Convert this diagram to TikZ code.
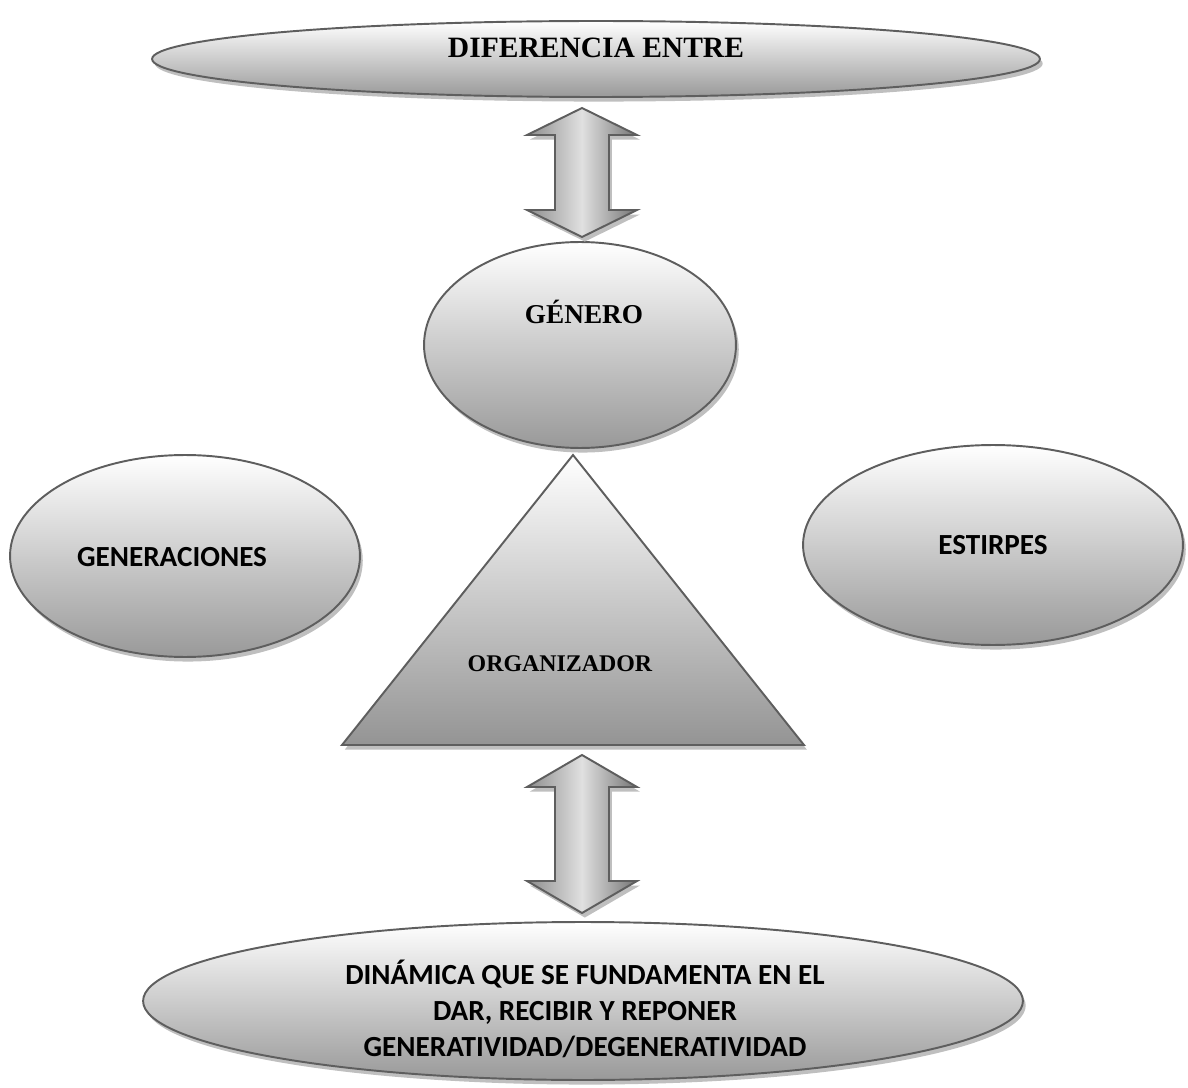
\documentclass[tikz,border=0pt]{standalone}
\usepackage{fontspec}
\setmainfont{Liberation Serif}
\newfontfamily\calfont{Carlito}
\usetikzlibrary{shapes.geometric,calc,shadows}

% vertical double-headed block arrow between two named points
\newcommand\dblarrow[3]{%
  \path[blockarrow]
    (#1) -- ($(#1)+(55,#3)$) -- ($(#1)+(27,#3)$) -- ($(#2)+(27,-#3)$)
    -- ($(#2)+(55,-#3)$) -- (#2) -- ($(#2)+(-55,-#3)$) -- ($(#2)+(-27,-#3)$)
    -- ($(#1)+(-27,#3)$) -- ($(#1)+(-55,#3)$) -- cycle;}

\begin{document}
\begin{tikzpicture}[x=0.02cm,y=-0.02cm,
  shade/.style={drop shadow={shadow xshift=1.6pt,shadow yshift=-2.6pt,
      fill=black!25,opacity=1}},
  oval/.style={ellipse,draw=black!63,line width=1.1pt,inner sep=0pt,
      top color=white,bottom color=black!40,shade},
  blockarrow/.style={draw=black!63,line width=1.1pt,
      left color=black!45,right color=black!55,middle color=black!12,shade},
  serifbold/.style={font=\fontsize{#1}{#1}\selectfont\bfseries,inner sep=0pt},
  sansbold/.style={font=\calfont\fontsize{#1}{#1}\selectfont\bfseries,inner sep=0pt}]

\useasboundingbox (0,0) rectangle (1188,1088);

% ellipses
\node[oval,minimum width=17.76cm,minimum height=1.52cm] (dif) at (596,59) {};
\node[oval,minimum width=6.24cm,minimum height=4.12cm] (gen) at (580,345) {};
\node[oval,minimum width=7.0cm,minimum height=4.04cm] (gens) at (185,556) {};
\node[oval,minimum width=7.6cm,minimum height=4.0cm] (est) at (993,545) {};
\node[oval,minimum width=17.6cm,minimum height=3.16cm] (din) at (583,1001) {};

% central triangle
\path[draw=black!63,line width=1.1pt,top color=white,bottom color=black!42,shade]
  (573,455) -- (804,745) -- (342,745) -- cycle;

% labels
\node[serifbold=16.8pt] (difT) at (596,48) {DIFERENCIA ENTRE};
\node[serifbold=15.5pt] (genT) at (584,312) {GÉNERO};
\node[serifbold=13.6pt] (org) at (560,664) {ORGANIZADOR};
\node[sansbold=16.6pt] (gensT) at (172,557) {GENERACIONES};
\node[sansbold=16.6pt] (estT) at (993,545) {ESTIRPES};
\node[align=center,inner sep=0pt,
  font=\calfont\fontsize{16.6pt}{20.6pt}\selectfont\bfseries] (dinT) at (585,1009)
  {DINÁMICA QUE SE FUNDAMENTA EN EL\\DAR, RECIBIR Y REPONER\\GENERATIVIDAD/DEGENERATIVIDAD};

% connectors
\coordinate (a1t) at (582,108);
\coordinate (a1b) at (582,237);
\coordinate (a2t) at (582,755);
\coordinate (a2b) at (582,913);
\dblarrow{a1t}{a1b}{27}
\dblarrow{a2t}{a2b}{32}
\end{tikzpicture}
\end{document}
